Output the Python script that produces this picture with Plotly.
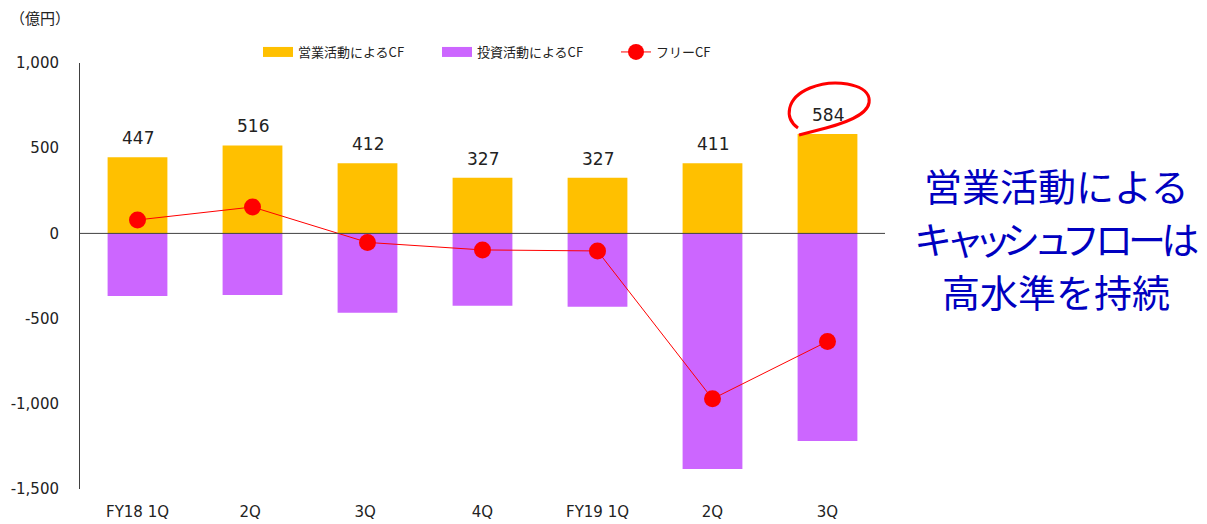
import plotly.graph_objects as go

categories = ["FY18 1Q", "2Q ", "3Q ", "4Q", "FY19 1Q", "2Q", "3Q"]
operating_cf = [447, 516, 412, 327, 327, 411, 584]
investing_cf = [-368, -361, -465, -424, -430, -1382, -1218]
free_cf = [79, 155, -53, -97, -103, -971, -634]
y_ticks = [1000, 500, 0, -500, -1000, -1500]
y_tick_labels = ["1,000", "500", "0", "-500", "-1,000", "-1,500"]
message_lines = ["営業活動による", "キャッシュフローは", "高水準を持続"]

ORANGE = "#FFC000"
PURPLE = "#CC66FF"
RED = "#FF0000"
NUM_FONT = "DejaVu Sans, Verdana, Noto Sans CJK JP"
JP_FONT = "Noto Sans CJK JP, DejaVu Sans"

# page offset (browser body margin)
OFF = 8
W, H = 1207 - OFF, 524 - OFF
PL, PR, PT, PB = 80, 885, 63, 489  # plot box in page pixels
L, T = PL - OFF, PT - OFF
R, B = W - (PR - OFF), H - (PB - OFF)
pw, ph = PR - PL, PB - PT


def px2paper(x, y):
    return (x - PL) / pw, (PB - y) / ph


fig = go.Figure()
fig.add_trace(go.Bar(x=categories, y=operating_cf, name="営業活動によるCF",
                     marker=dict(color=ORANGE, line_width=0), width=0.52,
                     hoverinfo="y", showlegend=False))
fig.add_trace(go.Bar(x=categories, y=investing_cf, name="投資活動によるCF",
                     marker=dict(color=PURPLE, line_width=0), width=0.52,
                     hoverinfo="y", showlegend=False))
# legend entries with wide rectangular swatches
fig.add_trace(go.Scatter(x=[None], y=[None], mode="lines", name="営業活動によるCF",
                         line=dict(color=ORANGE, width=10)))
fig.add_trace(go.Scatter(x=[None], y=[None], mode="lines", name="投資活動によるCF",
                         line=dict(color=PURPLE, width=10)))
fig.add_trace(go.Scatter(x=categories, y=free_cf, name="フリーCF",
                         mode="lines+markers",
                         line=dict(color=RED, width=1),
                         marker=dict(color=RED, size=17)))

for c, v in zip(categories, operating_cf):
    fig.add_annotation(x=c, y=v, text=str(v), showarrow=False,
                       xref="x", yref="y", yanchor="bottom", yshift=7,
                       font=dict(family=NUM_FONT, size=17, color="#222222"))

# zero line
fig.add_shape(type="line", xref="paper", yref="y", x0=0, x1=1, y0=0, y1=0,
              line=dict(color="#404040", width=1), layer="above")

# hand-drawn style ellipse around the last label
pts = [(798, 128), (784, 118), (786, 98), (810, 88), (836, 80), (866, 84),
       (869, 98), (872, 112), (852, 121), (826, 128), (799, 135)]
ppts = [px2paper(*p) for p in pts]
path = "M {:.4f},{:.4f}".format(*ppts[0])
path += " C {:.4f},{:.4f} {:.4f},{:.4f} {:.4f},{:.4f}".format(*ppts[1], *ppts[2], *ppts[3])
path += " S {:.4f},{:.4f} {:.4f},{:.4f}".format(*ppts[5], *ppts[6])
path += " S {:.4f},{:.4f} {:.4f},{:.4f}".format(*ppts[8], *ppts[9])
path += " L {:.4f},{:.4f}".format(*ppts[10])
fig.add_shape(type="path", path=path, xref="paper", yref="paper",
              line=dict(color=RED, width=3))

ux, uy = px2paper(8, 18)
fig.add_annotation(text="（億円）", x=ux, y=uy,
                   xref="paper", yref="paper", xanchor="left", yanchor="middle",
                   showarrow=False, font=dict(family=JP_FONT, size=15, color="#222222"))

# proportional-style tightening for the kana line
tighten = {"キ": -6, "ャ": -10, "ッ": -10, "シ": -6, "ュ": -10, "フ": -5, "ロ": -5, "ー": -5}


def styled(line):
    out = ""
    for ch in line:
        ls = tighten.get(ch, 0)
        if ls:
            out += '<span style="letter-spacing:{}px">{}</span>'.format(ls, ch)
        else:
            out += ch
    return out


for i, line in enumerate(message_lines):
    mx, my = px2paper(1056, 184 + 53 * i)
    fig.add_annotation(text=styled(line) if i == 1 else line, x=mx, y=my,
                       xref="paper", yref="paper", xanchor="center", yanchor="middle",
                       showarrow=False,
                       font=dict(family=JP_FONT, size=38, color="#0000C0"))

lx, ly = px2paper(258, 52)
fig.update_layout(
    width=W, height=H,
    margin=dict(l=L, r=R, t=T, b=B, autoexpand=False),
    barmode="relative",
    plot_bgcolor="white", paper_bgcolor="white",
    showlegend=True,
    legend=dict(orientation="h", x=lx, y=ly,
                xanchor="left", yanchor="middle",
                font=dict(family=JP_FONT, size=13, color="#222222"),
                bgcolor="rgba(0,0,0,0)", itemwidth=30, tracegroupgap=0,
                entrywidth=134),
    xaxis=dict(showgrid=False, showline=False, zeroline=False, ticks="",
               ticklabelstandoff=12,
               tickfont=dict(family=NUM_FONT, size=15, color="#222222"),
               range=[-0.5, 6.5]),
    yaxis=dict(range=[-1500, 1000], tickvals=y_ticks, ticktext=y_tick_labels,
               showgrid=False, showline=True, linecolor="#404040", linewidth=1,
               zeroline=False, ticks="", ticklabelstandoff=17,
               tickfont=dict(family=NUM_FONT, size=15, color="#222222")),
)

fig.write_html("out.html")
